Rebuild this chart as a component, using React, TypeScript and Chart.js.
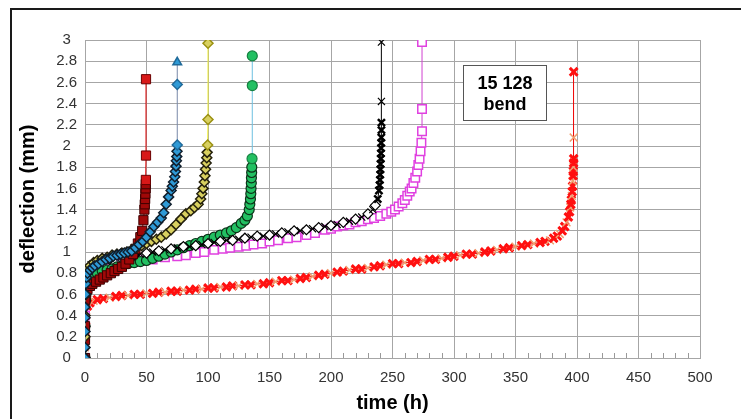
import React, { useEffect, useRef } from "react";
import { Chart, registerables } from "chart.js";

Chart.register(...registerables);

// ---------- data (time in h, deflection in mm) ----------
const xTickValues = [0, 50, 100, 150, 200, 250, 300, 350, 400, 450, 500];
const yTickValues = [0, 0.2, 0.4, 0.6, 0.8, 1, 1.2, 1.4, 1.6, 1.8, 2, 2.2, 2.4, 2.6, 2.8, 3];
const xTitle = "time (h)";
const yTitle = "deflection (mm)";
const noteLines = ["15 128", "bend"];

const redSqTime = [0, 0, 0, 0.3, 1, 2, 4, 6, 9, 12, 15, 18, 21, 24, 27, 30, 33, 36, 39, 41, 43, 45, 46.5, 47.5, 48.3, 48.6, 48.9, 49.1, 49.3, 49.4, 49.5, 49.6, 49.6];
const redSqDefl = [0, 0.17, 0.3, 0.55, 0.62, 0.65, 0.68, 0.7, 0.72, 0.74, 0.76, 0.78, 0.8, 0.82, 0.84, 0.86, 0.89, 0.93, 0.98, 1.03, 1.08, 1.14, 1.2, 1.3, 1.4, 1.45, 1.5, 1.55, 1.6, 1.64, 1.68, 1.91, 2.63];

const blueTime = [0, 0, 0, 0, 0, 0.3, 0.7, 1.2, 2, 4, 6, 8, 11, 14, 17, 20, 23, 26, 29, 32, 35, 38, 41, 44, 47, 50, 53, 56, 59, 62, 64, 66, 68, 70, 71, 72, 73, 73.5, 74, 74.3, 74.6, 74.8, 75, 75, 75];
const blueDefl = [0, 0.1, 0.25, 0.38, 0.48, 0.6, 0.7, 0.76, 0.8, 0.83, 0.85, 0.87, 0.89, 0.91, 0.93, 0.94, 0.96, 0.97, 0.98, 0.99, 1.0, 1.01, 1.04, 1.07, 1.1, 1.14, 1.19, 1.24, 1.28, 1.32, 1.37, 1.45, 1.52, 1.58, 1.62, 1.66, 1.71, 1.76, 1.81, 1.86, 1.9, 1.95, 2.01, 2.58, 2.79];

const yellowTime = [0, 0, 0, 0.5, 1, 2, 4, 7, 10, 14, 18, 22, 26, 30, 34, 38, 42, 46, 50, 54, 58, 62, 66, 70, 74, 78, 82, 86, 89, 92, 94, 95, 96, 97, 97.5, 98, 98.5, 99, 99.3, 99.7, 100, 100];
const yellowDefl = [0, 0.2, 0.4, 0.6, 0.75, 0.84, 0.87, 0.9, 0.92, 0.94, 0.95, 0.97, 0.98, 0.99, 1.0, 1.02, 1.04, 1.06, 1.08, 1.1, 1.12, 1.14, 1.17, 1.21, 1.26, 1.31, 1.36, 1.39, 1.42, 1.45, 1.5, 1.55, 1.6, 1.66, 1.72, 1.78, 1.84, 1.89, 1.94, 2.01, 2.25, 2.97];

const greenTime = [0, 0, 0.5, 1, 2, 4, 7, 10, 14, 18, 22, 26, 30, 35, 40, 45, 50, 55, 60, 65, 70, 75, 80, 85, 90, 95, 100, 105, 110, 115, 119, 123, 127, 130, 132, 133.5, 134, 134.5, 134.8, 135, 135.2, 135.3, 135.5, 135.6, 135.8, 136, 136];
const greenDefl = [0, 0.3, 0.55, 0.68, 0.74, 0.77, 0.79, 0.8, 0.82, 0.83, 0.84, 0.86, 0.87, 0.89, 0.9, 0.91, 0.92, 0.94, 0.96, 0.98, 1.0, 1.02, 1.04, 1.06, 1.08, 1.1, 1.12, 1.14, 1.16, 1.18, 1.2, 1.23, 1.27, 1.3, 1.34, 1.4, 1.45, 1.5, 1.55, 1.6, 1.65, 1.7, 1.75, 1.8, 1.88, 2.57, 2.85];

const blackTime = [0, 0, 0, 0.5, 1, 2, 5, 10, 15, 20, 25, 30, 35, 40, 45, 50, 55, 60, 65, 70, 75, 80, 85, 90, 95, 100, 105, 110, 115, 120, 125, 130, 135, 140, 145, 150, 155, 160, 165, 170, 175, 180, 185, 190, 195, 200, 205, 210, 215, 220, 225, 230, 234, 236, 238, 239, 239.5, 239.8, 240, 240.2, 240.3, 240.5, 240.6, 240.7, 240.8, 240.9, 241, 241, 241, 241];
const blackDefl = [0, 0.3, 0.6, 0.75, 0.8, 0.84, 0.88, 0.9, 0.92, 0.93, 0.95, 0.96, 0.96, 0.97, 0.98, 0.99, 1.0, 1.01, 1.02, 1.03, 1.04, 1.05, 1.05, 1.06, 1.07, 1.08, 1.09, 1.1, 1.11, 1.11, 1.12, 1.13, 1.14, 1.15, 1.15, 1.16, 1.17, 1.18, 1.19, 1.2, 1.2, 1.21, 1.22, 1.23, 1.24, 1.25, 1.26, 1.28, 1.29, 1.31, 1.33, 1.36, 1.4, 1.44, 1.5, 1.58, 1.63, 1.68, 1.73, 1.78, 1.83, 1.88, 1.93, 1.98, 2.03, 2.08, 2.15, 2.22, 2.42, 2.98];

const pinkTime = [0, 0, 1, 5, 15, 30, 45, 55, 65, 75, 82, 90, 97, 105, 112, 118, 125, 131, 137, 144, 150, 157, 165, 172, 180, 187, 195, 200, 205, 210, 215, 220, 225, 230, 235, 240, 245, 249, 252, 255, 258, 260, 262, 264, 265.5, 267, 268.5, 270, 271, 272, 272.8, 273.5, 274, 274, 274];
const pinkDefl = [0, 0.4, 0.75, 0.82, 0.86, 0.89, 0.92, 0.93, 0.95, 0.96, 0.97, 0.99, 1.0, 1.02, 1.03, 1.04, 1.05, 1.06, 1.07, 1.08, 1.1, 1.11, 1.13, 1.14, 1.16, 1.18, 1.21, 1.22, 1.24, 1.25, 1.26, 1.28, 1.29, 1.31, 1.32, 1.34, 1.36, 1.38, 1.4, 1.43, 1.46, 1.49, 1.53, 1.57, 1.6, 1.65, 1.7, 1.76, 1.82, 1.88, 1.95, 2.03, 2.14, 2.35, 2.98];

const redXTime = [0, 0, 0, 0.5, 1, 2, 4, 7, 10, 15,
  20, 25, 30, 35, 40, 45, 50, 55, 60, 65, 70,
  75, 80, 85, 90, 95, 100, 105, 110, 115, 120, 125, 130, 135, 140, 145, 150, 155, 160, 165, 170,
  175, 180, 185, 190, 195, 200, 205, 210, 215, 220, 225, 230, 235, 240, 245, 250, 255, 260, 265, 270,
  275, 280, 285, 290, 295, 300, 305, 310, 315, 320, 325, 330, 335, 340, 345, 350, 355, 360, 365, 370,
  374, 378, 381, 384, 386, 388, 390, 391.5, 393, 394, 394.5, 395, 395.4, 395.8, 396.1, 396.4, 396.6, 396.8, 397, 397.1, 397.2, 397.3, 397.3, 397.3];
const redXDefl = [0, 0.1, 0.2, 0.35, 0.45, 0.49, 0.52, 0.54, 0.55, 0.56,
  0.57, 0.58, 0.59, 0.59, 0.6, 0.6, 0.61, 0.61, 0.62, 0.62, 0.63,
  0.63, 0.64, 0.64, 0.65, 0.65, 0.66, 0.66, 0.67, 0.67, 0.68, 0.68, 0.69, 0.69, 0.7, 0.7, 0.71, 0.72, 0.73, 0.73, 0.74,
  0.75, 0.76, 0.77, 0.78, 0.79, 0.8, 0.81, 0.82, 0.83, 0.84, 0.84, 0.85, 0.86, 0.87, 0.88, 0.89, 0.89, 0.9, 0.9, 0.91,
  0.92, 0.93, 0.93, 0.94, 0.95, 0.96, 0.97, 0.98, 0.98, 0.99, 1.0, 1.01, 1.02, 1.03, 1.04, 1.05, 1.06, 1.07, 1.08, 1.09,
  1.1, 1.11, 1.13, 1.15, 1.17, 1.2, 1.24, 1.28, 1.33, 1.38, 1.42, 1.45, 1.49, 1.53, 1.57, 1.62, 1.67, 1.72, 1.76, 1.8, 1.84, 1.88, 2.08, 2.7];

// ---------- helpers ----------
const pts = (t: number[], v: number[]) => t.map((x, i) => ({ x, y: v[i] }));
const FONT = "'Liberation Sans', Arial, sans-serif";

const framePlugin = {
  id: "frame",
  beforeDraw(chart: any) {
    const ctx = chart.ctx;
    ctx.save();
    ctx.fillStyle = "#ffffff";
    ctx.fillRect(0, 0, chart.width, chart.height);
    ctx.strokeStyle = "#1a1a1a";
    ctx.lineWidth = 2;
    ctx.beginPath();
    ctx.moveTo(11, chart.height);
    ctx.lineTo(11, 9);
    ctx.lineTo(chart.width, 9);
    ctx.stroke();
    ctx.restore();
  },
};

const minorTickPlugin = {
  id: "minorTicks",
  beforeDatasetsDraw(chart: any) {
    const { ctx, scales } = chart;
    const xs = scales.x;
    const yb = scales.y.getPixelForValue(0);
    ctx.save();
    ctx.strokeStyle = "#999999";
    ctx.lineWidth = 1;
    ctx.beginPath();
    for (let t = xs.min; t <= xs.max; t += 10) {
      if (t % 50 === 0) continue;
      const px = Math.round(xs.getPixelForValue(t)) + 0.5;
      ctx.moveTo(px, yb);
      ctx.lineTo(px, yb - 5);
    }
    ctx.stroke();
    ctx.restore();
  },
};

const notePlugin = {
  id: "note",
  afterDatasetsDraw(chart: any) {
    const { ctx, scales } = chart;
    const l = Math.round(scales.x.getPixelForValue(307)) + 0.5;
    const r = Math.round(scales.x.getPixelForValue(375)) + 0.5;
    const t = Math.round(scales.y.getPixelForValue(2.76)) + 0.5;
    const b = Math.round(scales.y.getPixelForValue(2.25)) + 0.5;
    ctx.save();
    ctx.fillStyle = "#ffffff";
    ctx.fillRect(l, t, r - l, b - t);
    ctx.strokeStyle = "#555555";
    ctx.lineWidth = 1;
    ctx.strokeRect(l, t, r - l, b - t);
    ctx.fillStyle = "#000000";
    ctx.font = `bold 18px ${FONT}`;
    ctx.textAlign = "center";
    ctx.textBaseline = "middle";
    const cx = (l + r) / 2;
    ctx.fillText(noteLines[0], cx, t + 19);
    ctx.fillText(noteLines[1], cx, t + 40);
    ctx.restore();
  },
};

export default function App() {
  const ref = useRef<HTMLCanvasElement | null>(null);

  useEffect(() => {
    if (!ref.current) return;
    const chart = new Chart(ref.current, {
      type: "scatter",
      data: {
        datasets: [
          {
            label: "blue",
            data: pts(blueTime, blueDefl),
            showLine: true,
            borderColor: "#7888a8",
            borderWidth: 1,
            pointStyle: (c: any) => (c.dataIndex === blueTime.length - 1 ? "triangle" : "rectRot"),
            pointRadius: 5,
            pointBackgroundColor: "#2f9ad6",
            pointBorderColor: (c: any) => (blueDefl[c.dataIndex] > 2 ? "#1f6a9a" : "#101e2c"),
            pointBorderWidth: 1.5,
          },
          {
            label: "yellow",
            data: pts(yellowTime, yellowDefl),
            showLine: true,
            borderColor: "#f2f030",
            borderWidth: 1,
            pointStyle: "rectRot",
            pointRadius: 5,
            pointBackgroundColor: "#d8d060",
            pointBorderColor: (c: any) => (yellowDefl[c.dataIndex] > 2 ? "#9a9010" : "#24200c"),
            pointBorderWidth: 1.5,
          },
          {
            label: "red squares",
            data: pts(redSqTime, redSqDefl),
            showLine: true,
            borderColor: "#e00000",
            borderWidth: 1,
            pointStyle: "rect",
            pointRadius: 6.5,
            pointBackgroundColor: (c: any) => (redSqDefl[c.dataIndex] > 1.65 ? "#d81818" : "#a00808"),
            pointBorderColor: (c: any) => (redSqDefl[c.dataIndex] > 1.65 ? "#6a0000" : "#3c0000"),
            pointBorderWidth: 1,
          },
          {
            label: "black",
            data: pts(blackTime, blackDefl),
            showLine: true,
            borderColor: "#000000",
            borderWidth: 1,
            pointStyle: (c: any) =>
              blackDefl[c.dataIndex] > 1.45 || c.dataIndex % 2 === 0 ? "crossRot" : "rectRot",
            pointRadius: 5,
            pointBackgroundColor: "#ffffff",
            pointBorderColor: "#000000",
            pointBorderWidth: (c: any) => (blackDefl[c.dataIndex] > 1.45 && blackDefl[c.dataIndex] < 2.3 ? 2.5 : 1.2),
          },
          {
            label: "green",
            data: pts(greenTime, greenDefl),
            showLine: true,
            borderColor: "#6cc0e0",
            borderWidth: 1,
            pointStyle: "circle",
            pointRadius: 5,
            pointBackgroundColor: "#22c062",
            pointBorderColor: (c: any) => (greenDefl[c.dataIndex] > 1.85 ? "#168040" : "#0c3218"),
            pointBorderWidth: 1.2,
          },
          {
            label: "pink",
            data: pts(pinkTime, pinkDefl),
            showLine: true,
            borderColor: "#d040d0",
            borderWidth: 1,
            pointStyle: "rect",
            pointRadius: 6,
            pointBackgroundColor: "#ffffff",
            pointBorderColor: "#e040e0",
            pointBorderWidth: 1.5,
          },
          {
            label: "red x",
            data: pts(redXTime, redXDefl),
            showLine: true,
            borderColor: "#f00000",
            borderWidth: 1,
            pointStyle: "crossRot",
            pointRadius: 5.5,
            pointBorderColor: (c: any) => (c.dataIndex % 3 === 1 ? "#f0a070" : "#ff1010"),
            pointBorderWidth: (c: any) => (c.dataIndex % 3 === 1 ? 1.5 : 3),
          },
        ],
      },
      options: {
        animation: false,
        responsive: false,
        events: [],
        layout: { padding: { left: 10, right: 41, top: 40, bottom: 0 } },
        plugins: { legend: { display: false }, tooltip: { enabled: false } },
        scales: {
          x: {
            type: "linear",
            min: 0,
            max: 500,
            afterBuildTicks: (s: any) => {
              s.ticks = xTickValues.map((v) => ({ value: v }));
            },
            afterFit: (s: any) => {
              s.height = 61;
            },
            grid: { color: "#a6a6a6", lineWidth: 1, drawTicks: false },
            border: { color: "#a6a6a6" },
            ticks: {
              padding: 11,
              color: "#333333",
              font: { family: FONT, size: 15 },
              maxRotation: 0,
            },
            title: {
              display: true,
              text: xTitle,
              color: "#000000",
              font: { family: FONT, size: 20, weight: "bold" },
              padding: { top: 0, bottom: 4 },
            },
          },
          y: {
            type: "linear",
            min: 0,
            max: 3,
            afterBuildTicks: (s: any) => {
              s.ticks = yTickValues.map((v) => ({ value: v }));
            },
            afterFit: (s: any) => {
              s.width = 75;
            },
            grid: { color: "#a6a6a6", lineWidth: 1, drawTicks: false },
            border: { color: "#a6a6a6" },
            ticks: {
              padding: 8,
              crossAlign: "center",
              color: "#333333",
              font: { family: FONT, size: 15 },
              callback: (v: any) => String(Math.round(Number(v) * 10) / 10),
            },
            title: {
              display: true,
              text: yTitle,
              color: "#000000",
              font: { family: FONT, size: 20, weight: "bold" },
              padding: { top: 6, bottom: 0 },
            },
          },
        },
      },
      plugins: [framePlugin, minorTickPlugin, notePlugin],
    } as any);
    return () => chart.destroy();
  }, []);

  return (
    <div style={{ position: "absolute", left: 0, top: 0, width: 741, height: 419 }}>
      <canvas ref={ref} width={741} height={419} style={{ display: "block", width: 741, height: 419 }} />
    </div>
  );
}
